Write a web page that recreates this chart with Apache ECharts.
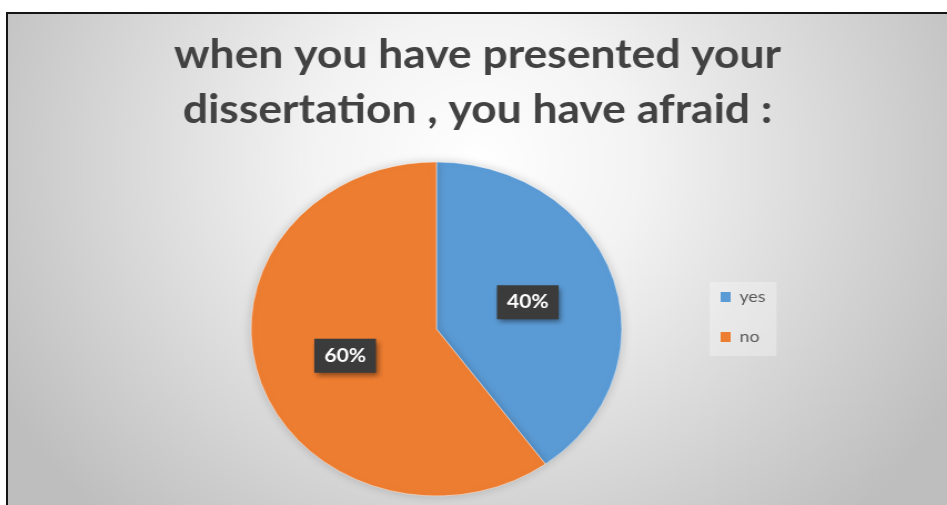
<!DOCTYPE html>
<html>
<head>
<meta charset="utf-8">
<script src="https://cdn.jsdelivr.net/npm/echarts@6/dist/echarts.min.js"></script>
<style>
  html, body { margin: 0; padding: 0; background: #ffffff; width: 947px; height: 505px; overflow: hidden; }
  #frame {
    position: absolute; left: 6px; top: 12px;
    width: 941px; height: 493px;
    border-left: 2px solid #151515; border-top: 2px solid #151515;
    overflow: hidden;
  }
  /* the exported chart is widened horizontally, so the whole drawing is stretched */
  #chart {
    width: 846px; height: 491px;
    transform: scaleX(1.11); transform-origin: 0 0;
  }
</style>
</head>
<body>
<div id="frame"><div id="chart"></div></div>
<script>
// answers to the survey question
const categories = ['yes', 'no'];
const shares = [40, 60];
const sliceColors = ['#5b9bd5', '#ed7d31'];
const titleLines = ['when you have presented your', 'dissertation , you have afraid :'];

const chart = echarts.init(document.getElementById('chart'), null, { renderer: 'canvas' });

const pieData = categories.map((name, i) => ({
  name: name,
  value: shares[i],
  itemStyle: { color: sliceColors[i] }
}));

chart.setOption({
  animation: false,
  backgroundColor: {
    type: 'radial', x: 0.5, y: 0.3, r: 1.0,
    colorStops: [
      { offset: 0, color: '#ffffff' },
      { offset: 0.3, color: '#f3f3f3' },
      { offset: 1, color: '#bebebe' }
    ]
  },
  title: {
    text: titleLines.join('\n'),
    left: 'center',
    top: 9,
    textStyle: {
      fontFamily: 'Lato',
      fontWeight: 'bold',
      fontSize: 40,
      lineHeight: 55,
      color: '#424242'
    }
  },
  legend: {
    orient: 'vertical',
    left: 632,
    top: 268,
    padding: [7, 10, 11, 10],
    backgroundColor: 'rgba(255,255,255,0.3)',
    itemWidth: 9,
    itemHeight: 10,
    itemGap: 24,
    icon: 'rect',
    itemStyle: { borderWidth: 0, shadowBlur: 0 },
    textStyle: {
      fontFamily: 'Lato',
      fontSize: 16,
      lineHeight: 16,
      color: '#595959',
      padding: [0, 0, 0, 3]
    },
    data: categories
  },
  series: [{
    type: 'pie',
    center: [386, 315],
    radius: [0, 167],
    startAngle: 90,
    clockwise: true,
    data: pieData,
    itemStyle: {
      borderColor: 'rgba(255,255,255,0.45)',
      borderWidth: 1,
      shadowBlur: 10,
      shadowColor: 'rgba(0,0,0,0.18)'
    },
    label: {
      show: true,
      position: 'inside',
      formatter: '{d}%',
      fontFamily: 'Lato',
      fontWeight: 'bold',
      fontSize: 19,
      color: '#ffffff',
      backgroundColor: '#3b3b3b',
      padding: [8, 9, 7, 9],
      shadowBlur: 5,
      shadowOffsetX: 2,
      shadowOffsetY: 3,
      shadowColor: 'rgba(0,0,0,0.45)'
    },
    labelLine: { show: false },
    emphasis: { disabled: true }
  }]
});
</script>
</body>
</html>
